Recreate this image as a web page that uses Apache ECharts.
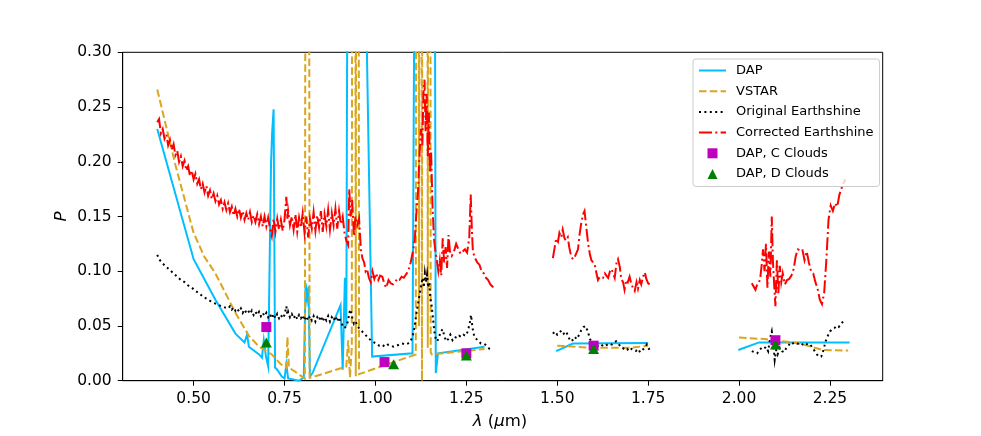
<!DOCTYPE html>
<html>
<head>
<meta charset="utf-8">
<script src="https://cdn.jsdelivr.net/npm/echarts@6/dist/echarts.min.js"></script>
<style>
html, body { margin: 0; padding: 0; background: #fff; }
#chart { width: 981px; height: 436px; }
</style>
</head>
<body>
<div id="chart"></div>
<script>
// [wavelength (um), P] ; null P = gap between bands
var dap = [[0.400,0.230],[0.500,0.111],[0.560,0.074],[0.615,0.043],[0.640,0.035],[0.647,0.042],[0.652,0.031],
  [0.680,0.024],[0.688,0.021],[0.693,0.037],[0.699,0.022],[0.705,0.013],[0.710,0.013],[0.713,0.200],[0.716,0.227],
  [0.720,0.248],[0.724,0.012],[0.730,0.010],[0.742,0.004],[0.750,0.002],[0.755,0.015],[0.760,0.002],[0.790,0.000],
  [0.803,0.003],[0.808,0.089],[0.812,0.075],[0.816,0.086],[0.820,0.004],[0.827,0.007],[0.904,0.069],[0.910,0.010],
  [0.916,0.094],[0.920,0.050],[0.930,1.200],[0.991,0.022],[1.102,0.025],[1.120,1.200],[1.158,1.200],[1.166,0.007],
  [1.172,0.025],[1.300,0.031],[1.40,null],[1.497,0.027],[1.543,0.034],[1.750,0.0345],[1.88,null],
  [1.998,0.028],[2.055,0.035],[2.304,0.035]];

var vstar = [[0.400,0.266],[0.450,0.197],[0.500,0.135],[0.530,0.113],[0.560,0.098],[0.615,0.062],[0.652,0.041],
  [0.680,0.031],[0.715,0.024],[0.740,0.015],[0.755,0.012],[0.758,0.040],[0.762,0.012],[0.780,0.008],[0.806,0.002],
  [0.813,2.0],[0.819,0.003],[0.825,0.003],[0.920,0.013],[0.925,0.037],[0.930,0.003],[0.935,0.030],[0.940,2.0],
  [0.946,0.004],[0.950,2.0],[0.955,0.006],[1.111,0.024],[1.116,2.0],[1.120,0.05],[1.123,2.0],[1.128,0.0],[1.132,2.0],
  [1.140,2.0],[1.144,0.03],[1.148,2.0],[1.152,0.026],[1.155,0.024],[1.300,0.029],[1.40,null],[1.500,0.032],
  [1.550,0.031],[1.600,0.030],[1.650,0.030],[1.700,0.030],[1.750,0.032],[1.88,null],[2.000,0.0395],[2.070,0.038],
  [2.160,0.0345],[2.230,0.028],[2.300,0.0275]];

var origES = [[0.400,0.115],[0.405,0.111],[0.410,0.112],[0.415,0.107],[0.420,0.108],[0.425,0.104],[0.430,0.105],
  [0.435,0.101],[0.440,0.102],[0.445,0.098],[0.450,0.099],[0.455,0.095],[0.460,0.096],[0.465,0.092],[0.470,0.093],
  [0.475,0.090],[0.480,0.090],[0.485,0.087],[0.490,0.088],[0.495,0.085],[0.500,0.086],[0.505,0.082],[0.510,0.083],
  [0.515,0.080],[0.520,0.081],[0.525,0.077],[0.530,0.078],[0.535,0.075],[0.540,0.076],[0.545,0.073],[0.550,0.074],
  [0.555,0.071],[0.560,0.072],[0.565,0.070],[0.570,0.071],[0.575,0.068],[0.580,0.069],[0.585,0.067],[0.590,0.068],
  [0.595,0.066],[0.600,0.068],[0.605,0.065],[0.610,0.067],[0.615,0.064],[0.620,0.066],[0.625,0.063],[0.630,0.066],
  [0.635,0.062],[0.640,0.065],[0.645,0.062],[0.650,0.064],[0.655,0.061],[0.660,0.064],[0.665,0.060],[0.670,0.063],
  [0.675,0.060],[0.680,0.063],[0.685,0.059],[0.690,0.062],[0.695,0.059],[0.700,0.062],[0.705,0.058],[0.710,0.061],
  [0.715,0.057],[0.720,0.061],[0.725,0.057],[0.730,0.061],[0.735,0.057],[0.740,0.060],[0.745,0.057],[0.750,0.060],
  [0.755,0.068],[0.758,0.060],[0.760,0.063],[0.765,0.058],[0.770,0.061],[0.775,0.057],[0.780,0.060],[0.785,0.056],
  [0.790,0.060],[0.795,0.057],[0.800,0.060],[0.805,0.055],[0.810,0.059],[0.815,0.055],[0.820,0.059],[0.825,0.055],
  [0.830,0.059],[0.835,0.054],[0.840,0.058],[0.845,0.055],[0.850,0.059],[0.855,0.054],[0.860,0.058],[0.865,0.055],
  [0.870,0.059],[0.875,0.054],[0.880,0.058],[0.885,0.055],[0.890,0.059],[0.895,0.054],[0.900,0.058],[0.905,0.053],
  [0.910,0.052],[0.915,0.048],[0.920,0.050],[0.925,0.055],[0.928,0.062],[0.932,0.065],[0.936,0.058],[0.941,0.052],
  [0.946,0.054],[0.950,0.050],[0.955,0.048],[0.960,0.047],[0.966,0.044],[0.972,0.042],[0.978,0.040],[0.984,0.038],
  [0.990,0.036],[0.996,0.035],[1.002,0.034],[1.010,0.032],[1.018,0.033],[1.026,0.031],[1.034,0.033],[1.042,0.032],
  [1.050,0.031],[1.058,0.032],[1.066,0.033],[1.074,0.034],[1.082,0.033],[1.090,0.034],[1.097,0.036],[1.103,0.042],
  [1.108,0.050],[1.113,0.062],[1.118,0.072],[1.122,0.080],[1.126,0.088],[1.130,0.094],[1.133,0.085],[1.136,0.098],
  [1.139,0.090],[1.142,0.097],[1.145,0.085],[1.148,0.090],[1.151,0.075],[1.154,0.070],[1.158,0.058],[1.162,0.045],
  [1.166,0.038],[1.170,0.036],[1.175,0.040],[1.180,0.045],[1.185,0.047],[1.190,0.040],[1.195,0.036],[1.200,0.038],
  [1.206,0.042],[1.212,0.037],[1.218,0.040],[1.224,0.039],[1.230,0.041],[1.236,0.040],[1.242,0.042],[1.248,0.041],
  [1.254,0.045],[1.259,0.052],[1.263,0.060],[1.267,0.048],[1.272,0.040],[1.278,0.038],[1.284,0.036],[1.290,0.034],
  [1.296,0.034],[1.302,0.033],[1.308,0.031],[1.314,0.029],[1.320,0.028],[1.40,null],
  [1.488,0.043],[1.494,0.045],[1.500,0.042],[1.506,0.044],[1.512,0.046],[1.518,0.043],[1.524,0.045],[1.530,0.041],
  [1.536,0.036],[1.542,0.037],[1.548,0.040],[1.554,0.038],[1.560,0.042],[1.566,0.046],[1.572,0.049],[1.578,0.050],
  [1.584,0.045],[1.590,0.038],[1.596,0.035],[1.602,0.033],[1.608,0.031],[1.614,0.032],[1.620,0.031],[1.626,0.033],
  [1.632,0.032],[1.638,0.033],[1.644,0.034],[1.650,0.033],[1.656,0.035],[1.662,0.036],[1.668,0.034],[1.674,0.031],
  [1.680,0.030],[1.686,0.028],[1.692,0.029],[1.698,0.027],[1.704,0.029],[1.710,0.028],[1.716,0.027],[1.722,0.029],
  [1.728,0.026],[1.734,0.028],[1.740,0.030],[1.746,0.033],[1.752,0.029],[1.758,0.030],[1.763,0.029],[1.88,null],
  [2.035,0.027],[2.042,0.026],[2.050,0.025],[2.056,0.028],[2.062,0.030],[2.068,0.029],[2.074,0.031],[2.080,0.027],
  [2.086,0.040],[2.090,0.045],[2.094,0.035],[2.098,0.019],[2.102,0.028],[2.106,0.024],[2.112,0.030],[2.118,0.027],
  [2.124,0.026],[2.130,0.030],[2.136,0.032],[2.142,0.035],[2.148,0.034],[2.154,0.035],[2.160,0.034],[2.166,0.033],
  [2.172,0.034],[2.178,0.032],[2.184,0.033],[2.190,0.034],[2.196,0.033],[2.202,0.030],[2.208,0.027],[2.214,0.024],
  [2.220,0.022],[2.226,0.022],[2.232,0.028],[2.238,0.036],[2.244,0.041],[2.250,0.045],[2.256,0.047],[2.262,0.048],
  [2.268,0.050],[2.274,0.049],[2.280,0.052],[2.286,0.054]];

var corrES = [[0.400,0.236],[0.405,0.239],[0.410,0.226],[0.415,0.230],[0.420,0.221],[0.425,0.225],[0.430,0.215],
  [0.435,0.220],[0.440,0.211],[0.445,0.216],[0.450,0.206],[0.455,0.210],[0.460,0.200],[0.465,0.205],[0.470,0.196],
  [0.475,0.201],[0.480,0.192],[0.485,0.196],[0.490,0.187],[0.495,0.192],[0.500,0.184],[0.505,0.189],[0.510,0.180],
  [0.515,0.184],[0.520,0.175],[0.525,0.180],[0.530,0.172],[0.535,0.178],[0.540,0.169],[0.545,0.174],[0.550,0.166],
  [0.555,0.171],[0.560,0.164],[0.565,0.169],[0.570,0.161],[0.575,0.165],[0.580,0.157],[0.585,0.163],[0.590,0.156],
  [0.595,0.162],[0.600,0.154],[0.605,0.159],[0.610,0.151],[0.615,0.157],[0.620,0.150],[0.625,0.157],[0.630,0.149],
  [0.635,0.155],[0.640,0.147],[0.645,0.153],[0.650,0.147],[0.655,0.154],[0.660,0.145],[0.665,0.151],[0.670,0.145],
  [0.675,0.152],[0.680,0.143],[0.685,0.150],[0.690,0.141],[0.695,0.150],[0.700,0.141],[0.705,0.149],[0.710,0.139],
  [0.715,0.132],[0.720,0.148],[0.725,0.136],[0.730,0.148],[0.735,0.138],[0.740,0.147],[0.745,0.137],[0.750,0.147],
  [0.755,0.168],[0.758,0.148],[0.760,0.155],[0.765,0.142],[0.770,0.150],[0.775,0.138],[0.780,0.152],[0.785,0.136],
  [0.790,0.149],[0.795,0.140],[0.800,0.153],[0.805,0.135],[0.810,0.150],[0.815,0.131],[0.820,0.148],[0.825,0.139],
  [0.830,0.154],[0.835,0.137],[0.840,0.151],[0.845,0.140],[0.850,0.155],[0.855,0.136],[0.860,0.152],[0.865,0.141],
  [0.870,0.156],[0.875,0.138],[0.880,0.153],[0.885,0.142],[0.890,0.157],[0.895,0.139],[0.900,0.155],[0.905,0.143],
  [0.910,0.150],[0.915,0.135],[0.920,0.128],[0.925,0.124],[0.928,0.175],[0.932,0.150],[0.936,0.165],[0.941,0.132],
  [0.945,0.150],[0.950,0.142],[0.955,0.148],[0.960,0.120],[0.964,0.112],[0.969,0.108],[0.973,0.100],[0.977,0.102],
  [0.982,0.094],[0.987,0.090],[0.992,0.100],[0.997,0.093],[1.002,0.098],[1.008,0.092],[1.013,0.096],[1.019,0.095],
  [1.025,0.088],[1.030,0.085],[1.036,0.092],[1.042,0.089],[1.048,0.088],[1.054,0.090],[1.060,0.093],[1.066,0.092],
  [1.072,0.095],[1.078,0.094],[1.084,0.097],[1.090,0.100],[1.097,0.108],[1.103,0.118],[1.108,0.128],[1.112,0.150],
  [1.117,0.172],[1.121,0.205],[1.125,0.230],[1.129,0.215],[1.132,0.262],[1.135,0.275],[1.138,0.228],[1.141,0.262],
  [1.144,0.205],[1.147,0.245],[1.150,0.190],[1.153,0.210],[1.157,0.160],[1.161,0.130],[1.165,0.118],[1.169,0.110],
  [1.173,0.100],[1.177,0.110],[1.181,0.096],[1.185,0.130],[1.189,0.108],[1.193,0.122],[1.197,0.103],[1.201,0.133],
  [1.205,0.118],[1.210,0.114],[1.216,0.118],[1.222,0.125],[1.228,0.120],[1.234,0.116],[1.240,0.118],[1.246,0.120],
  [1.252,0.117],[1.258,0.130],[1.262,0.170],[1.265,0.140],[1.268,0.118],[1.274,0.112],[1.280,0.108],[1.286,0.106],
  [1.292,0.100],[1.298,0.098],[1.304,0.094],[1.310,0.092],[1.316,0.088],[1.322,0.086],[1.328,0.085],[1.40,null],
  [1.488,0.112],[1.493,0.122],[1.497,0.130],[1.502,0.127],[1.506,0.135],[1.511,0.131],[1.515,0.138],[1.520,0.130],
  [1.524,0.128],[1.529,0.131],[1.533,0.122],[1.538,0.114],[1.543,0.111],[1.548,0.113],[1.553,0.112],[1.557,0.120],
  [1.562,0.135],[1.566,0.144],[1.571,0.152],[1.575,0.155],[1.580,0.140],[1.585,0.125],[1.590,0.115],[1.594,0.110],
  [1.599,0.108],[1.603,0.106],[1.608,0.098],[1.612,0.092],[1.617,0.095],[1.621,0.096],[1.626,0.094],[1.631,0.098],
  [1.635,0.096],[1.640,0.094],[1.645,0.100],[1.649,0.102],[1.654,0.098],[1.658,0.094],[1.663,0.108],[1.667,0.111],
  [1.672,0.104],[1.676,0.093],[1.681,0.090],[1.685,0.083],[1.690,0.092],[1.694,0.090],[1.699,0.095],[1.704,0.088],
  [1.708,0.085],[1.713,0.082],[1.718,0.090],[1.722,0.084],[1.727,0.092],[1.731,0.088],[1.736,0.095],[1.741,0.099],
  [1.745,0.093],[1.750,0.089],[1.754,0.088],[1.88,null],
  [2.035,0.089],[2.040,0.086],[2.045,0.083],[2.050,0.088],[2.055,0.090],[2.058,0.093],[2.062,0.105],[2.066,0.120],
  [2.070,0.100],[2.074,0.125],[2.078,0.085],[2.082,0.118],[2.086,0.095],[2.090,0.150],[2.093,0.110],[2.097,0.085],
  [2.100,0.068],[2.104,0.110],[2.108,0.080],[2.112,0.105],[2.116,0.090],[2.120,0.098],[2.126,0.088],[2.132,0.092],
  [2.138,0.093],[2.144,0.096],[2.150,0.102],[2.156,0.114],[2.162,0.120],[2.168,0.119],[2.174,0.120],[2.180,0.110],
  [2.186,0.118],[2.192,0.108],[2.198,0.100],[2.204,0.098],[2.210,0.090],[2.216,0.084],[2.222,0.074],[2.228,0.070],
  [2.234,0.080],[2.240,0.110],[2.246,0.147],[2.252,0.160],[2.258,0.155],[2.264,0.162],[2.270,0.159],[2.276,0.170],
  [2.282,0.176],[2.288,0.181],[2.292,0.184]];

var cClouds = [[0.700,0.049],[1.025,0.017],[1.250,0.025],[1.600,0.032],[2.100,0.037]];
var dClouds = [[0.700,0.035],[1.050,0.015],[1.250,0.023],[1.600,0.029],[2.100,0.033]];

var xTicks = [0.50, 0.75, 1.00, 1.25, 1.50, 1.75, 2.00, 2.25];

var FONT = 'DejaVu Sans';

function prep(arr) {
  return arr.map(function (d) { return [d[0], d[1] == null ? '-' : d[1]]; });
}

function lineSeries(name, data, color, dash) {
  return {
    name: name,
    type: 'line',
    data: prep(data),
    symbol: 'none',
    showSymbol: false,
    connectNulls: false,
    clip: true,
    lineStyle: { color: color, width: 2, type: dash, cap: 'butt', join: 'miter' },
    itemStyle: { color: color },
    emphasis: { disabled: true },
    animation: false
  };
}

var chart = echarts.init(document.getElementById('chart'), null, { renderer: 'canvas' });

chart.setOption({
  animation: false,
  backgroundColor: '#fff',
  grid: {
    left: 122.7, right: 98.3, top: 52.3, bottom: 55.3,
    show: true, borderColor: '#000', borderWidth: 1, backgroundColor: 'transparent'
  },
  xAxis: {
    type: 'value',
    min: 0.305, max: 2.395,
    axisLine: { show: true, onZero: false, lineStyle: { color: '#000', width: 1 } },
    axisTick: { show: true, length: 5, lineStyle: { color: '#000', width: 1 }, customValues: xTicks },
    axisLabel: {
      color: '#000', fontFamily: FONT, fontSize: 15.5, margin: 10,
      customValues: xTicks,
      formatter: function (v) { return v.toFixed(2); }
    },
    splitLine: { show: false }
  },
  yAxis: {
    type: 'value',
    min: 0, max: 0.30, interval: 0.05,
    axisLine: { show: true, onZero: false, lineStyle: { color: '#000', width: 1 } },
    axisTick: { show: true, length: 5, lineStyle: { color: '#000', width: 1 } },
    axisLabel: {
      color: '#000', fontFamily: FONT, fontSize: 15.5, margin: 11,
      formatter: function (v) { return v.toFixed(2); }
    },
    splitLine: { show: false }
  },
  legend: {
    orient: 'vertical',
    left: 693, top: 59,
    padding: [5, 6, 6, 5],
    itemWidth: 27, itemHeight: 10, itemGap: 7.7,
    backgroundColor: 'rgba(255,255,255,0.8)',
    borderColor: '#cccccc', borderWidth: 1, borderRadius: 3,
    selectedMode: false,
    textStyle: { color: '#000', fontFamily: FONT, fontSize: 13, lineHeight: 12, padding: [0, 0, 0, 5] },
    data: [
      { name: 'DAP', itemStyle: { opacity: 0 } },
      { name: 'VSTAR', itemStyle: { opacity: 0 } },
      { name: 'Original Earthshine', itemStyle: { opacity: 0 } },
      { name: 'Corrected Earthshine', itemStyle: { opacity: 0 } },
      { name: 'DAP, C Clouds', icon: 'path://M0,0L10,0L10,10L0,10Z' },
      { name: 'DAP, D Clouds', icon: 'path://M5,0L10,10L0,10Z' }
    ]
  },
  graphic: [
    {
      type: 'text', x: 500, y: 421.5, silent: true,
      style: {
        text: '{i|λ} ({i|μ}m)', align: 'center', verticalAlign: 'middle',
        fill: '#000', font: '16.5px "DejaVu Sans"',
        rich: { i: { fontStyle: 'italic', fontFamily: FONT, fontSize: 16.5, fill: '#000' } }
      }
    },
    {
      type: 'text', x: 62, y: 216.5, rotation: Math.PI / 2, silent: true,
      style: {
        text: 'P', align: 'center', verticalAlign: 'middle',
        fill: '#000', font: 'italic 16.5px "DejaVu Sans"'
      }
    }
  ],
  series: [
    lineSeries('DAP', dap, '#00bfff', 'solid'),
    lineSeries('VSTAR', vstar, '#daa520', [7.5, 3.3]),
    lineSeries('Original Earthshine', origES, '#000000', [2, 3.4]),
    lineSeries('Corrected Earthshine', corrES, '#ff0000', [13, 3.3, 2, 3.3]),
    {
      name: 'DAP, C Clouds', type: 'scatter', data: cClouds,
      symbol: 'rect', symbolSize: 10,
      itemStyle: { color: '#bf00bf', opacity: 1 }, emphasis: { disabled: true }, z: 3
    },
    {
      name: 'DAP, D Clouds', type: 'scatter', data: dClouds,
      symbol: 'triangle', symbolSize: [11, 10],
      itemStyle: { color: '#008000', opacity: 1 }, emphasis: { disabled: true }, z: 3
    }
  ]
});
</script>
</body>
</html>
